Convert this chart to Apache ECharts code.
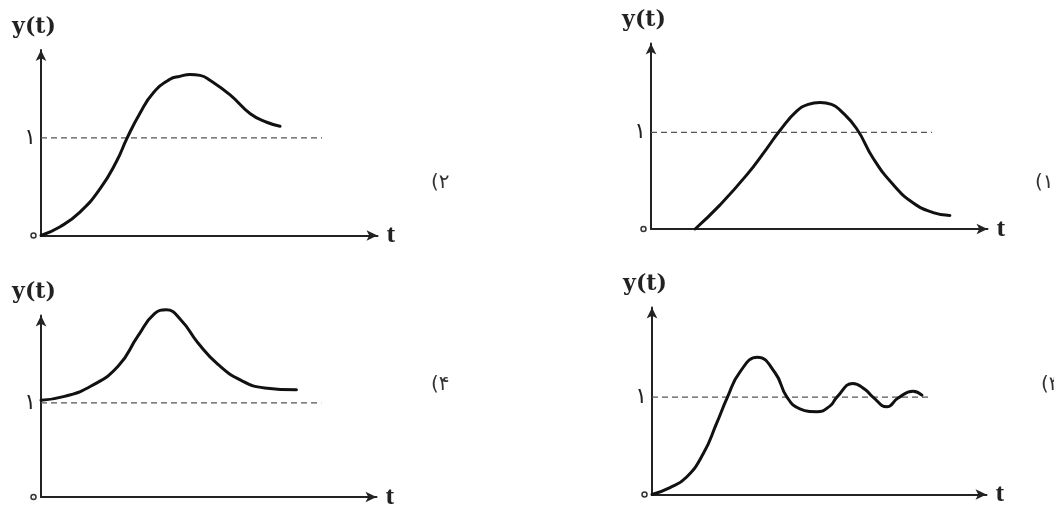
<!DOCTYPE html>
<html>
<head>
<meta charset="utf-8">
<script src="https://cdn.jsdelivr.net/npm/echarts@6/dist/echarts.min.js"></script>
<style>html,body{margin:0;padding:0;background:#fff;}#c{width:1054px;height:510px;}</style>
</head>
<body>
<div id="c"></div>
<script>
// Panel labels (top-left, top-right, bottom-left, bottom-right)
const panelLabels = ['(۲', '(۱', '(۴', '(۳'];
const yName = 'y(t)';
const xName = 't';
const refLevel = 1;
const refEndT = 8.22;

// Curve data: [t, y(t)]
const curve2 = [[0,0],[0.56,0.09],[1.14,0.24],[1.73,0.48],[2.21,0.76],[2.52,1.0],[2.89,1.25],[3.28,1.46],[3.77,1.6],[4.06,1.63],[4.36,1.65],[4.65,1.64],[4.94,1.59],[5.53,1.44],[6.11,1.25],[6.6,1.16],[6.99,1.12]];
const curve1 = [[1.29,0],[2.02,0.25],[2.8,0.56],[3.38,0.83],[3.77,1.02],[4.26,1.22],[4.6,1.29],[4.94,1.31],[5.28,1.29],[5.53,1.23],[6.01,1.04],[6.5,0.73],[7.08,0.46],[7.67,0.27],[8.25,0.17],[8.74,0.14]];
const curve4 = [[0,1.03],[0.69,1.07],[1.47,1.18],[2.26,1.39],[2.84,1.71],[3.33,1.95],[3.67,1.99],[4.11,1.88],[4.6,1.64],[5.19,1.41],[5.87,1.24],[6.56,1.16],[7.49,1.14]];
const curve3 = [[0,0],[0.53,0.07],[1.02,0.18],[1.51,0.42],[1.9,0.73],[2.22,1.0],[2.59,1.26],[3.1,1.41],[3.62,1.25],[3.97,1.0],[4.35,0.88],[4.85,0.85],[5.24,0.91],[5.44,1.0],[5.91,1.14],[6.26,1.08],[6.5,1.0],[6.91,0.9],[7.24,0.99],[7.68,1.06],[7.94,1.02]];
const curves = [curve2, curve1, curve4, curve3];
const yMaxes = [1.9, 1.92, 1.93, 1.92];
const xMax = 9.84;

const grids = [
  {left: 41, top: 50, width: 336.5, height: 185.5},
  {left: 651, top: 43.5, width: 336.5, height: 185.5},
  {left: 41, top: 315.5, width: 335.5, height: 184.5},
  {left: 652, top: 307.5, width: 334.5, height: 187}
];
const titlePos = [
  {left: 426, top: 168},
  {left: 1030, top: 168},
  {left: 426, top: 370},
  {left: 1036, top: 370}
];

const axisLine = {show: true, symbol: ['none', 'arrow'], symbolSize: [8, 11], lineStyle: {color: '#222', width: 2}};

const option = {
  backgroundColor: '#fff',
  animation: false,
  title: panelLabels.map((t, i) => ({text: t, left: titlePos[i].left, top: titlePos[i].top,
    textStyle: {fontSize: 20, fontWeight: 'normal', color: '#333', fontFamily: 'DejaVu Sans'}})),
  grid: grids,
  xAxis: grids.map((g, i) => ({
    type: 'value', gridIndex: i, min: 0, max: xMax,
    axisLine: axisLine, axisTick: {show: false}, axisLabel: {show: false}, splitLine: {show: false},
    name: xName, nameLocation: 'end', nameGap: 9,
    nameTextStyle: {fontSize: 26, fontFamily: 'Liberation Serif', fontWeight: 'bold', color: '#222',
      verticalAlign: 'middle', padding: [0, 0, 2, 0]}
  })),
  yAxis: grids.map((g, i) => ({
    type: 'value', gridIndex: i, min: 0, max: yMaxes[i], interval: 1,
    axisLine: axisLine, axisTick: {show: false}, splitLine: {show: false},
    axisLabel: {show: true, margin: 5, fontSize: 22, color: '#222', fontFamily: 'DejaVu Sans',
      showMaxLabel: false,
      formatter: v => v === 0 ? '{z|۰}' : (v === 1 ? '۱' : ''),
      rich: {z: {fontSize: 4, color: '#333', width: 5, height: 5, align: 'center', verticalAlign: 'middle',
        borderColor: '#333', borderWidth: 1.5, borderRadius: 4, padding: 0}}},
    name: yName, nameLocation: 'end', nameGap: 12,
    nameTextStyle: {fontSize: 22, fontFamily: 'DejaVu Serif', fontWeight: 'bold', color: '#222',
      align: 'center', padding: [0, 14, 0, 0]}
  })),
  series: []
};

curves.forEach((c, i) => {
  option.series.push({
    type: 'line', xAxisIndex: i, yAxisIndex: i, data: [[0, refLevel], [refEndT, refLevel]],
    showSymbol: false, silent: true,
    lineStyle: {color: '#555', width: 1.2, type: [6, 4]}
  });
  option.series.push({
    type: 'line', xAxisIndex: i, yAxisIndex: i, data: c, smooth: 0.5, clip: false,
    showSymbol: false, lineStyle: {color: '#111', width: 3, cap: 'round', join: 'round'}
  });
});

const chart = echarts.init(document.getElementById('c'), null, {renderer: 'canvas'});
chart.setOption(option);
</script>
</body>
</html>
